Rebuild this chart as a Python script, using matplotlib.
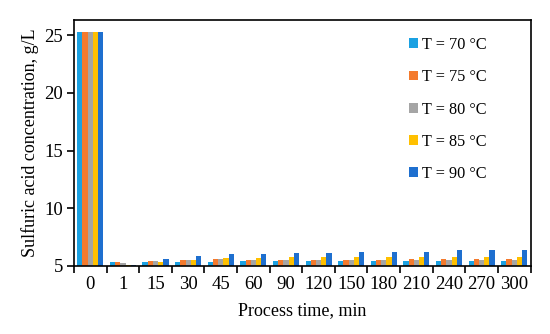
import numpy as np
import matplotlib.pyplot as plt
from matplotlib.ticker import FixedLocator

plt.rcParams['font.family'] = ['Liberation Serif', 'DejaVu Serif']

times = ["0", "1", "15", "30", "45", "60", "90", "120", "150", "180", "210", "240", "270", "300"]

t70 = [25.3, 5.34, 5.34, 5.34, 5.34, 5.43, 5.43, 5.43, 5.43, 5.43, 5.43, 5.43, 5.43, 5.43]
t75 = [25.3, 5.34, 5.43, 5.55, 5.58, 5.55, 5.52, 5.52, 5.52, 5.52, 5.58, 5.58, 5.58, 5.58]
t80 = [25.3, 5.26, 5.43, 5.50, 5.58, 5.52, 5.52, 5.52, 5.52, 5.52, 5.52, 5.52, 5.52, 5.52]
t85 = [25.3, 5.09, 5.37, 5.55, 5.66, 5.70, 5.75, 5.75, 5.75, 5.75, 5.78, 5.78, 5.78, 5.78]
t90 = [25.3, 5.10, 5.60, 5.89, 6.03, 6.05, 6.10, 6.12, 6.23, 6.20, 6.23, 6.35, 6.35, 6.35]

series = [t70, t75, t80, t85, t90]
labels = ["T = 70 °C", "T = 75 °C", "T = 80 °C", "T = 85 °C", "T = 90 °C"]
colors = ["#1BA1E2", "#F47A2D", "#A5A5A5", "#FFC000", "#1E6FCF"]

fig = plt.figure(figsize=(5.5, 3.34), dpi=100)
ax = fig.add_axes([74/550, 1-266/334, (530.5-74)/550, (266-20)/334])

x = np.arange(len(times))
w = 0.16
for i, (vals, lab, col) in enumerate(zip(series, labels, colors)):
    h = np.array(vals) - 5
    ax.bar(x + (i - 2) * w, h, w, bottom=5, color=col, label=lab)

ax.set_xlim(-0.5, len(times) - 0.5)
ax.set_ylim(5, 26.3)
ax.set_yticks([5, 10, 15, 20, 25])
ax.set_xticks(x)
ax.set_xticklabels(times)
ax.xaxis.set_minor_locator(FixedLocator(np.arange(-0.5, len(times), 1)))
ax.tick_params(axis='x', which='major', length=0, pad=7, labelsize=13.5)
ax.tick_params(axis='x', which='minor', length=5, width=1.2, direction='out')
ax.tick_params(axis='y', length=5, width=1.2, direction='out', labelsize=13.5, pad=3)
for s in ax.spines.values():
    s.set_linewidth(1.2)

ax.set_xlabel("Process time, min", fontsize=13, labelpad=7)
ax.set_ylabel("Sulfuric acid concentration, g/L", fontsize=13, labelpad=4)

ax.legend(loc='upper right', bbox_to_anchor=(0.937, 0.99), frameon=False,
          fontsize=11.7, handlelength=0.55, handleheight=0.55, handletextpad=0.3,
          labelspacing=1.0)

fig.savefig("out.png", dpi=100)
